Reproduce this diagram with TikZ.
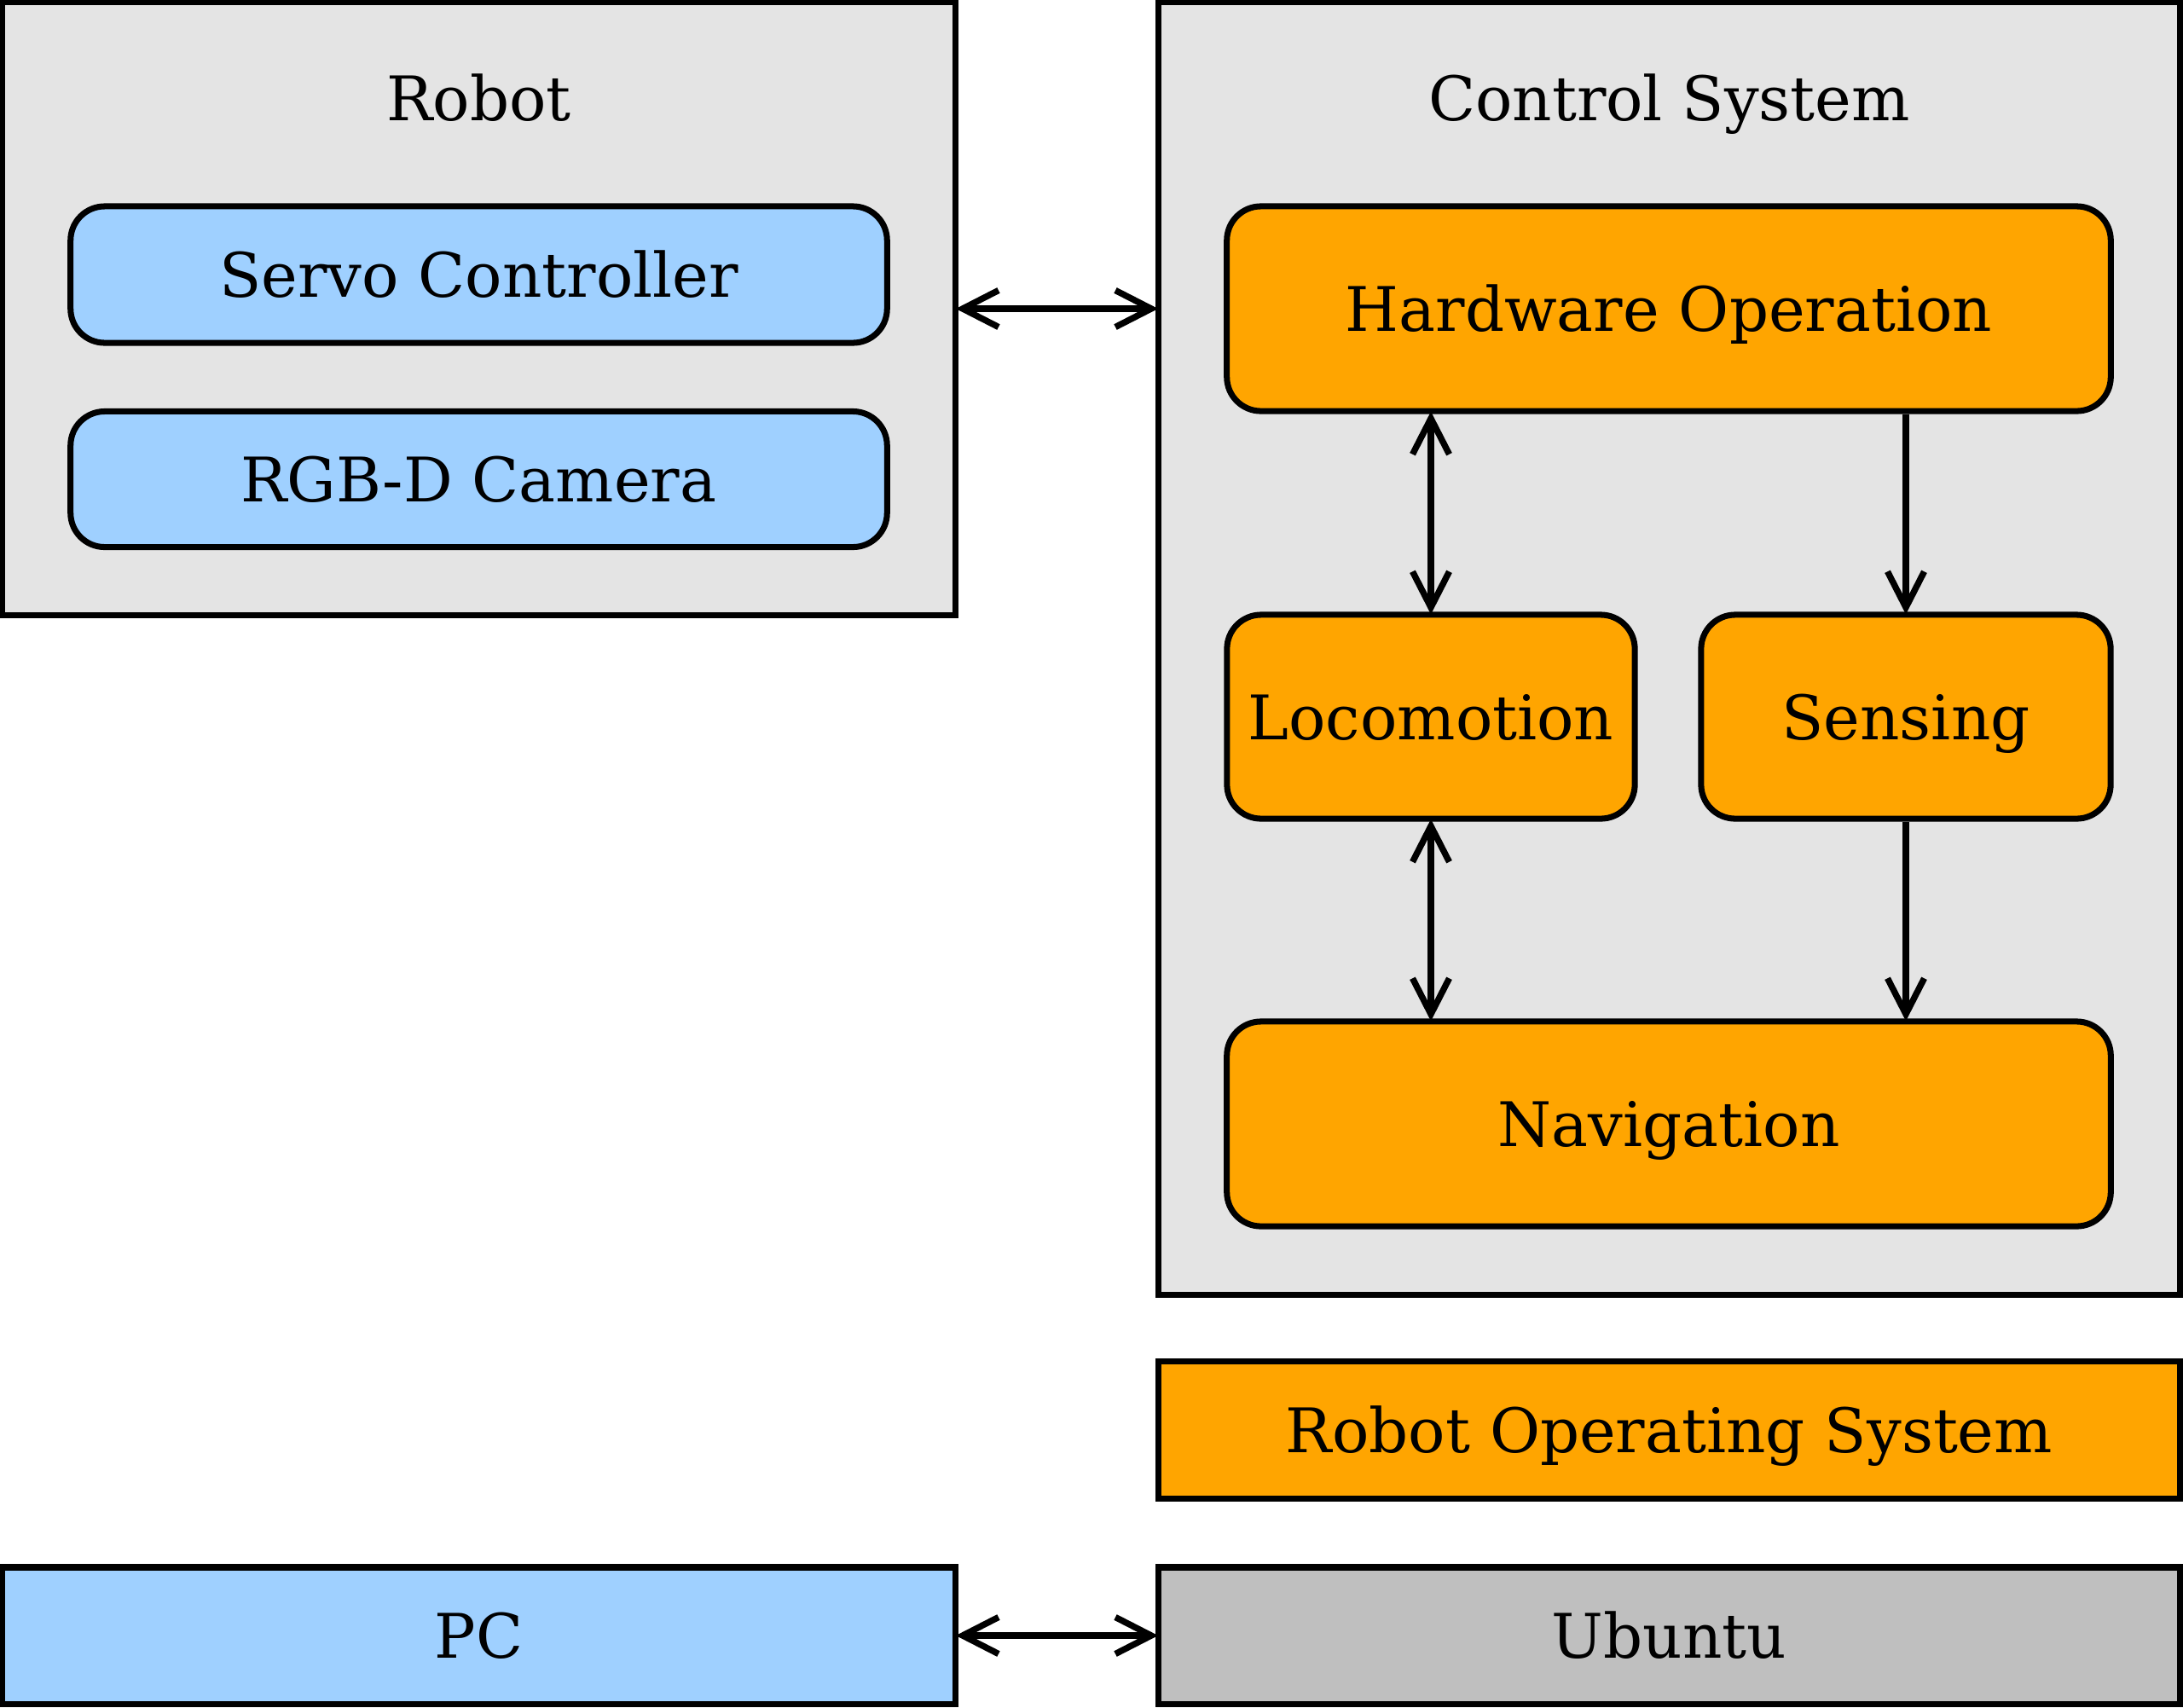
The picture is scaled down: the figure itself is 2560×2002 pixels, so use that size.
\documentclass[tikz,border=0pt]{standalone}
\usepackage{fontspec}
\setmainfont{DejaVu Serif}
\usetikzlibrary{arrows.meta}
\definecolor{panelgray}{HTML}{E4E4E4}
\definecolor{lightblue}{HTML}{9FD0FF}
\definecolor{boxorange}{HTML}{FFA500}
\definecolor{ubgray}{HTML}{BFBFBF}
\tikzset{
  pane/.style={draw=black, line width=2pt, rectangle, inner sep=0pt, anchor=center},
  panel/.style={pane, fill=panelgray},
  bluebox/.style={pane, fill=lightblue, rounded corners=0.4cm},
  orangebox/.style={pane, fill=boxorange, rounded corners=0.4cm},
  flatorange/.style={pane, fill=boxorange},
  flatblue/.style={pane, fill=lightblue},
  flatgray/.style={pane, fill=ubgray},
  txt/.style={font=\fontsize{20.5}{24}\selectfont, text height=0.53cm, text depth=0pt},
  arr/.style={line width=2.1pt, >={Straight Barb[length=0.42cm, width=0.43cm]}},
  fwd/.style={shorten >=-0.03cm},
  back/.style={shorten <=-0.03cm}
}
\begin{document}
\begin{tikzpicture}[x=0.01cm, y=-0.01cm]
\useasboundingbox (0,0) rectangle (2560,2002);
% panels
\node[panel, minimum width=11.17cm, minimum height=7.18cm] (robot) at (561.5,362) {};
\node[txt, inner sep=0pt] (robottitle) at (561.5,115) {Robot};
\node[panel, minimum width=11.97cm, minimum height=15.15cm] (control) at (1957.5,760.5) {};
\node[txt, inner sep=0pt] (controltitle) at (1957.5,115) {Control System};
% robot parts
\node[bluebox, txt, minimum width=9.57cm, minimum height=1.60cm] (servo) at (561.5,322) {Servo Controller};
\node[bluebox, txt, minimum width=9.57cm, minimum height=1.59cm] (rgbd) at (561.5,562) {RGB-D Camera};
% control parts
\node[orangebox, txt, minimum width=10.36cm, minimum height=2.40cm] (hw) at (1957,362) {Hardware Operation};
\node[orangebox, txt, minimum width=4.78cm, minimum height=2.39cm] (loco) at (1678,840.5) {Locomotion};
\node[orangebox, txt, minimum width=4.80cm, minimum height=2.39cm] (sens) at (2235,840.5) {Sensing};
\node[orangebox, txt, minimum width=10.36cm, minimum height=2.40cm] (nav) at (1957,1318) {Navigation};
% bottom
\node[flatorange, txt, minimum width=11.97cm, minimum height=1.60cm] (ros) at (1957.5,1677) {Robot Operating System};
\node[flatblue, txt, minimum width=11.17cm, minimum height=1.60cm] (pc) at (561.5,1918) {PC};
\node[flatgray, txt, minimum width=11.97cm, minimum height=1.60cm] (ubuntu) at (1957.5,1918) {Ubuntu};
% connectors
\draw[arr, fwd, back, <->] (robot.east) -- (robot.east -| control.west);
\draw[arr, fwd, back, <->] (loco.north |- hw.south) -- (loco.north);
\draw[arr, fwd, ->] (sens.north |- hw.south) -- (sens.north);
\draw[arr, fwd, back, <->] (loco.south) -- (loco.south |- nav.north);
\draw[arr, fwd, ->] (sens.south) -- (sens.south |- nav.north);
\draw[arr, fwd, back, <->] (pc.east) -- (ubuntu.west);
\end{tikzpicture}
\end{document}
